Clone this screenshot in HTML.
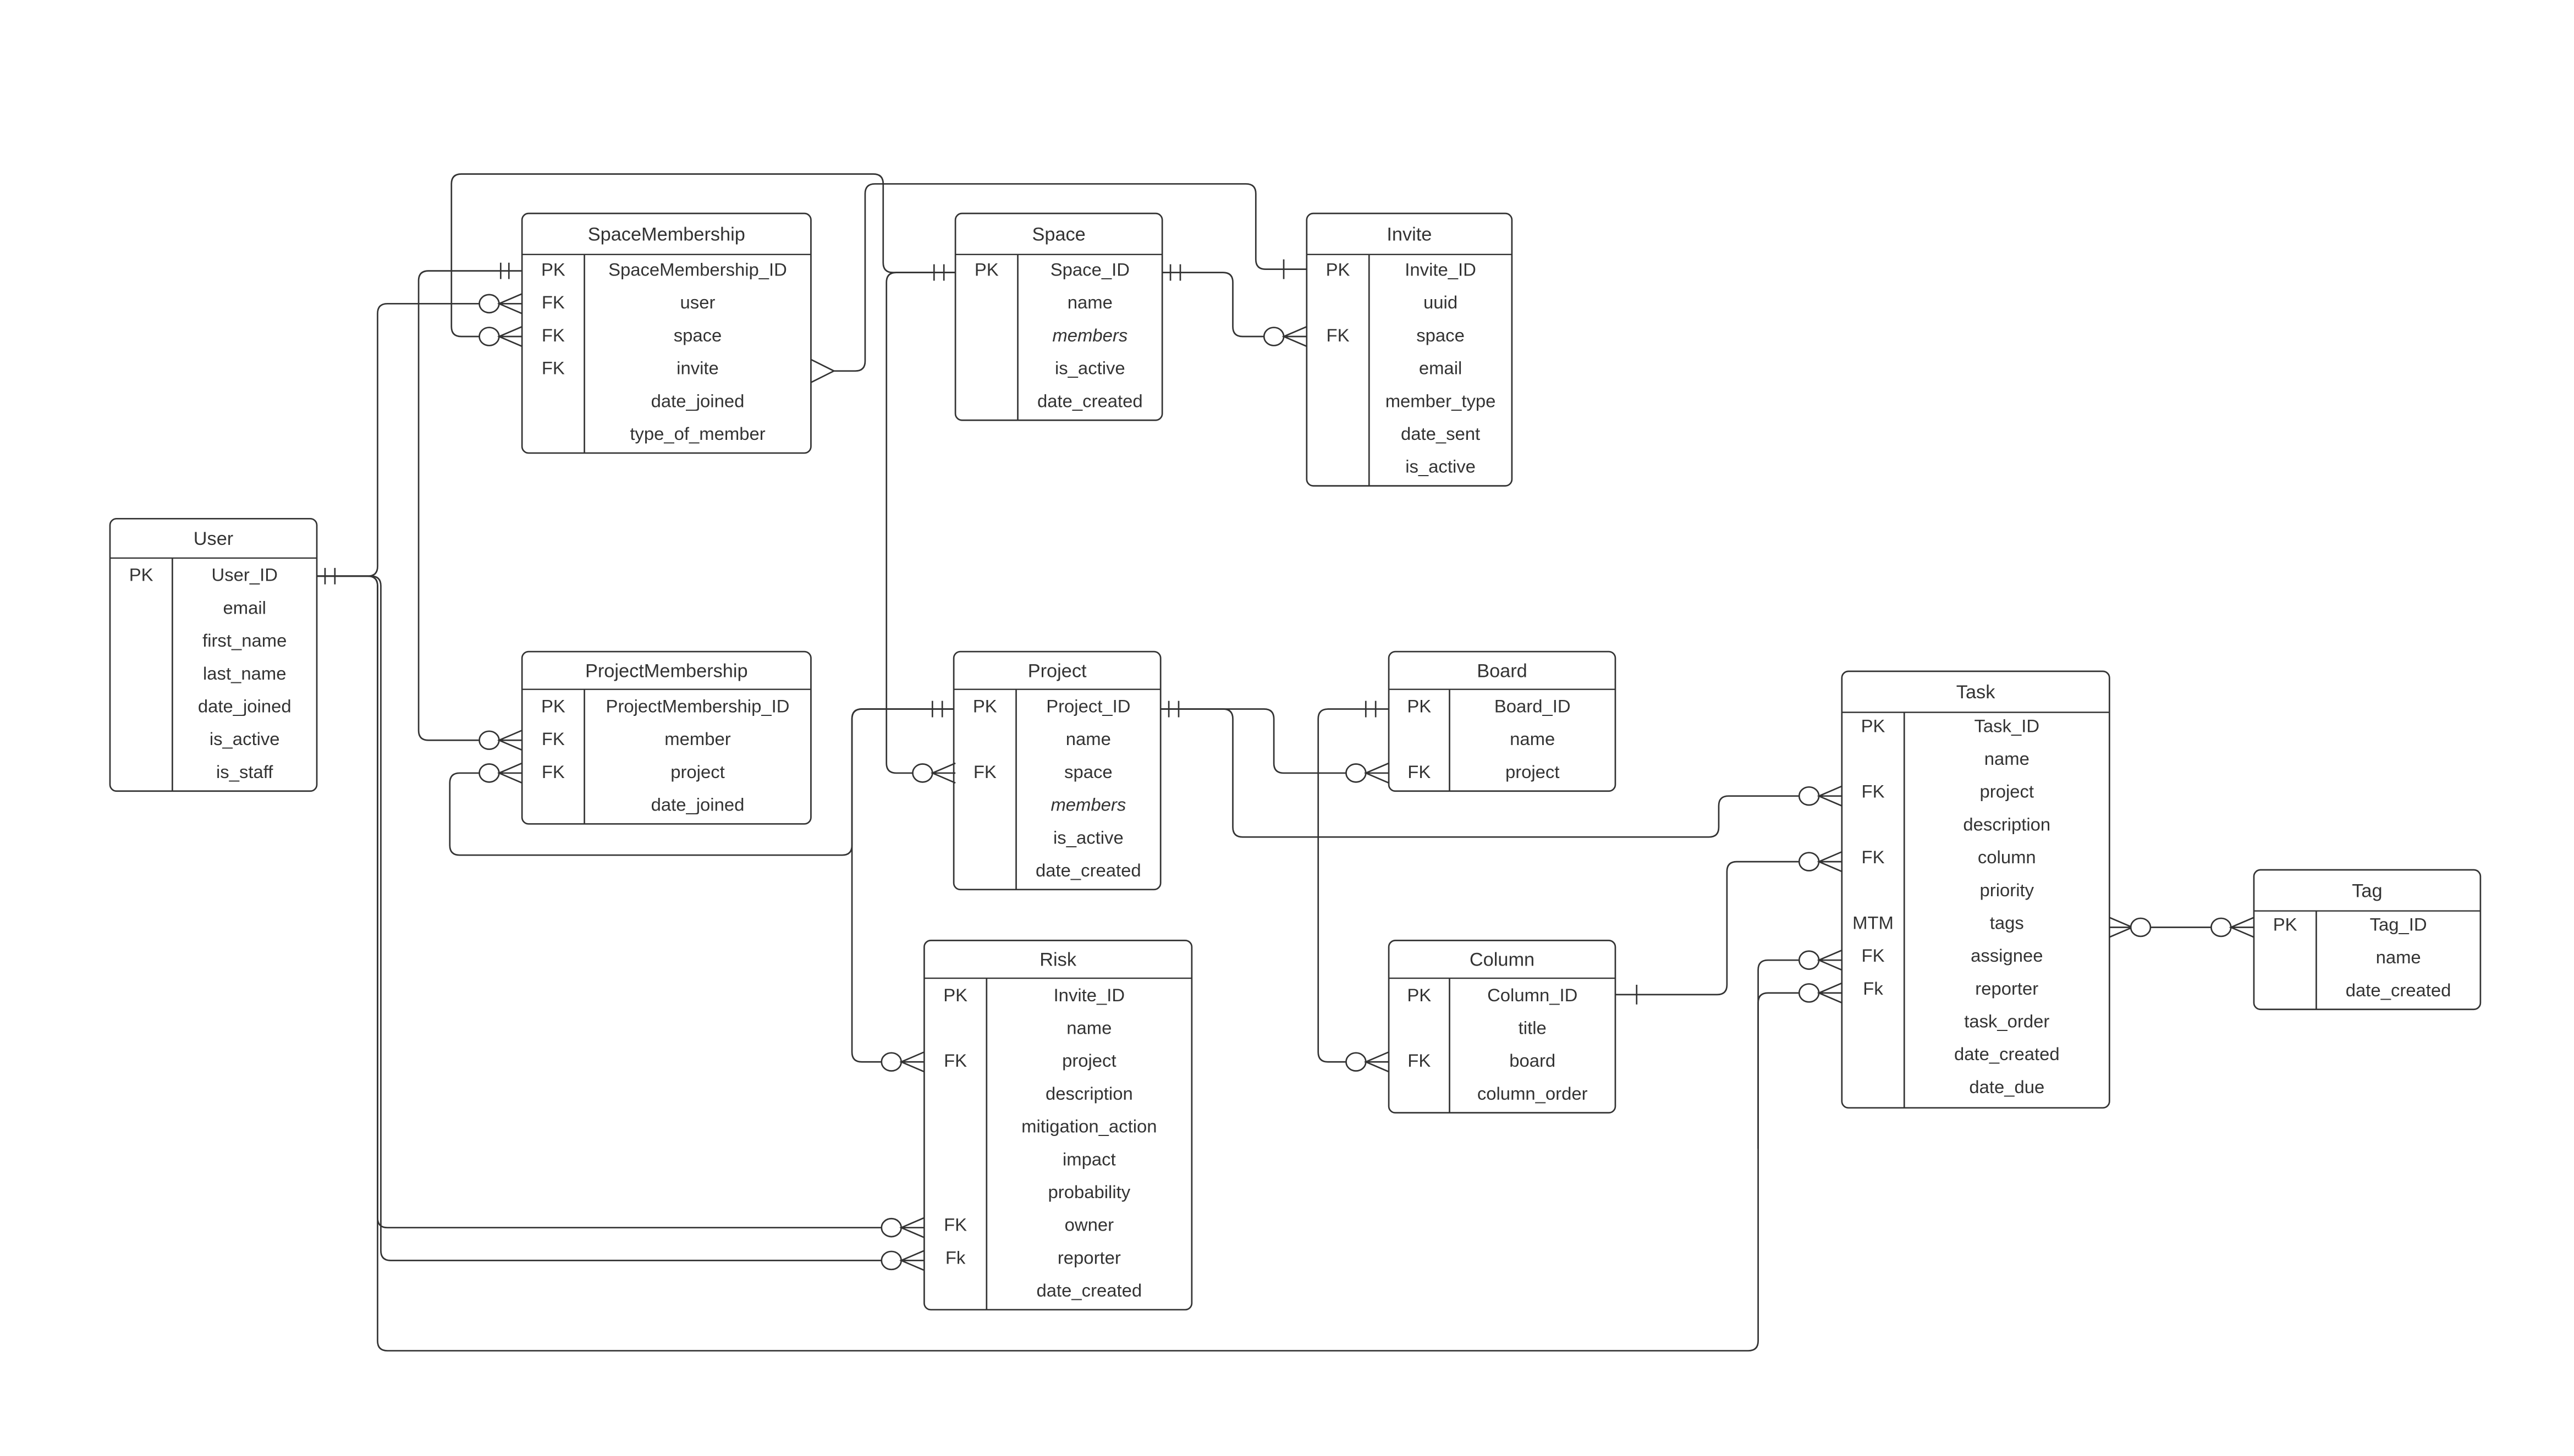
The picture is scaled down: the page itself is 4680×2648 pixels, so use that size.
<!DOCTYPE html>
<html><head><meta charset="utf-8"><style>
html,body{margin:0;padding:0;background:#fff;}
svg{display:block;}
text{font-family:"Liberation Sans",sans-serif;fill:#333;}
</style></head><body>
<svg id="s" width="4680" height="2648" viewBox="0 0 1568 887.1" xmlns="http://www.w3.org/2000/svg"></svg>
<script>
const S=document.getElementById('s');
let out='';
const ST='stroke="#333" fill="none"';
function tbl(x,y,w,h,div,title,hdrH,rows,rowStart){
  out+=`<rect x="${x}" y="${y}" width="${w}" height="${h}" rx="4" ${ST} stroke-width="0.9"/>`;
  out+=`<line x1="${x}" y1="${y+hdrH}" x2="${x+w}" y2="${y+hdrH}" stroke="#333" stroke-width="0.8"/>`;
  out+=`<line x1="${div}" y1="${y+hdrH}" x2="${div}" y2="${y+h}" stroke="#333" stroke-width="0.9"/>`;
  out+=`<text x="${x+w/2}" y="${y+hdrH/2+4}" font-size="11.5" text-anchor="middle">${title}</text>`;
  rows.forEach((r,i)=>{
    const cy=rowStart+i*20;
    if(r[0]) out+=`<text x="${(x+div)/2}" y="${cy+4}" font-size="11" text-anchor="middle">${r[0]}</text>`;
    const it=r[2]?' font-style="italic"':'';
    out+=`<text x="${(div+x+w)/2}" y="${cy+4}" font-size="11" text-anchor="middle"${it} fill="#111">${r[1]}</text>`;
  });
}
tbl(318,130,176,146,356,'SpaceMembership',25,[['PK','SpaceMembership_ID'],['FK','user'],['FK','space'],['FK','invite'],['','date_joined'],['','type_of_member']],164);
tbl(582,130,126,126,620,'Space',25,[['PK','Space_ID'],['','name'],['','members',1],['','is_active'],['','date_created']],164);
tbl(796,130,125,166,834,'Invite',25,[['PK','Invite_ID'],['','uuid'],['FK','space'],['','email'],['','member_type'],['','date_sent'],['','is_active']],164);
tbl(67,316,126,166,105,'User',24,[['PK','User_ID'],['','email'],['','first_name'],['','last_name'],['','date_joined'],['','is_active'],['','is_staff']],350);
tbl(318,397,176,105,356,'ProjectMembership',23,[['PK','ProjectMembership_ID'],['FK','member'],['FK','project'],['','date_joined']],430);
tbl(581,397,126,145,619,'Project',23,[['PK','Project_ID'],['','name'],['FK','space'],['','members',1],['','is_active'],['','date_created']],430);
tbl(846,397,138,85,883,'Board',23,[['PK','Board_ID'],['','name'],['FK','project']],430);
tbl(1122,409,163,266,1160,'Task',25,[['PK','Task_ID'],['','name'],['FK','project'],['','description'],['FK','column'],['','priority'],['MTM','tags'],['FK','assignee'],['Fk','reporter'],['','task_order'],['','date_created'],['','date_due']],442);
tbl(1373,530,138,85,1411,'Tag',25,[['PK','Tag_ID'],['','name'],['','date_created']],563);
tbl(846,573,138,105,883,'Column',23,[['PK','Column_ID'],['','title'],['FK','board'],['','column_order']],606);
tbl(563,573,163,225,601,'Risk',23,[['PK','Invite_ID'],['','name'],['FK','project'],['','description'],['','mitigation_action'],['','impact'],['','probability'],['FK','owner'],['Fk','reporter'],['','date_created']],606);

function route(p,r=6){
  let d=`M${p[0][0]},${p[0][1]}`;
  for(let i=1;i<p.length-1;i++){
    const [ax,ay]=p[i-1],[bx,by]=p[i],[cx,cy]=p[i+1];
    const l1=Math.hypot(bx-ax,by-ay),l2=Math.hypot(cx-bx,cy-by);
    const rr=Math.min(r,l1/2,l2/2);
    const x1=bx-(bx-ax)/l1*rr,y1=by-(by-ay)/l1*rr;
    const x2=bx+(cx-bx)/l2*rr,y2=by+(cy-by)/l2*rr;
    d+=` L${x1},${y1} Q${bx},${by} ${x2},${y2}`;
  }
  const q=p[p.length-1];d+=` L${q[0]},${q[1]}`;
  out+=`<path d="${d}" ${ST} stroke-width="0.9"/>`;
}
function many0L(X,y){
  out+=`<ellipse cx="${X-20}" cy="${y}" rx="6" ry="5.5" fill="#fff" stroke="#333" stroke-width="0.9"/>`;
  out+=`<path d="M${X},${y-6} L${X-14},${y} L${X},${y+6} M${X-14},${y} L${X},${y}" ${ST} stroke-width="0.9"/>`;
}
function bars(x1,x2,y){
  out+=`<path d="M${x1},${y-5} V${y+5} M${x2},${y-5} V${y+5}" ${ST} stroke-width="0.9"/>`;
}
route([[193,351],[230,351],[230,185],[292,185]]); many0L(318,185);
route([[193,351],[230,351],[230,748],[537,748]]); many0L(563,748);
route([[193,351],[232,351],[232,768],[537,768]]); many0L(563,768);
route([[193,351],[230,351],[230,823],[1071,823],[1071,585],[1096,585]]); many0L(1122,585);
route([[1071,700],[1071,605],[1096,605]]); many0L(1122,605);
bars(198,204,351);
route([[318,165],[255,165],[255,451],[292,451]]); many0L(318,451); bars(305,310,165);
route([[582,166],[538,166],[538,106],[275,106],[275,205],[292,205]]); many0L(318,205);
route([[582,166],[540,166],[540,471],[556,471]]); many0L(582,471); bars(569,575,166);
route([[708,166],[751,166],[751,205],[770,205]]); many0L(796,205); bars(713,719,166);
route([[796,164],[765,164],[765,112],[527,112],[527,226],[508,226]]);
out+=`<path d="M494,219 L508,226 L494,233" ${ST} stroke-width="0.9"/>`;
out+=`<line x1="782" y1="158" x2="782" y2="170" stroke="#333" stroke-width="0.9"/>`;
route([[581,432],[519,432],[519,521],[274,521],[274,471],[292,471]]); many0L(318,471);
route([[581,432],[519,432],[519,647],[537,647]]); many0L(563,647); bars(568,574,432);
route([[707,432],[776,432],[776,471],[820,471]]); many0L(846,471);
route([[707,432],[751,432],[751,510],[1047,510],[1047,485],[1096,485]]); many0L(1122,485); bars(712,718,432);
route([[846,432],[803,432],[803,647],[820,647]]); many0L(846,647); bars(832,838,432);
route([[984,606],[1052,606],[1052,525],[1096,525]]); many0L(1122,525);
out+=`<line x1="997" y1="600" x2="997" y2="612" stroke="#333" stroke-width="0.9"/>`;
route([[1298,565],[1348,565]]);
out+=`<path d="M1285,559 L1299,565 L1285,571 M1285,565 L1299,565" ${ST} stroke-width="0.9"/>`;
out+=`<ellipse cx="1304" cy="565" rx="6" ry="5.5" fill="#fff" stroke="#333" stroke-width="0.9"/>`;
many0L(1373,565);
S.innerHTML=out;
</script>
</body></html>
